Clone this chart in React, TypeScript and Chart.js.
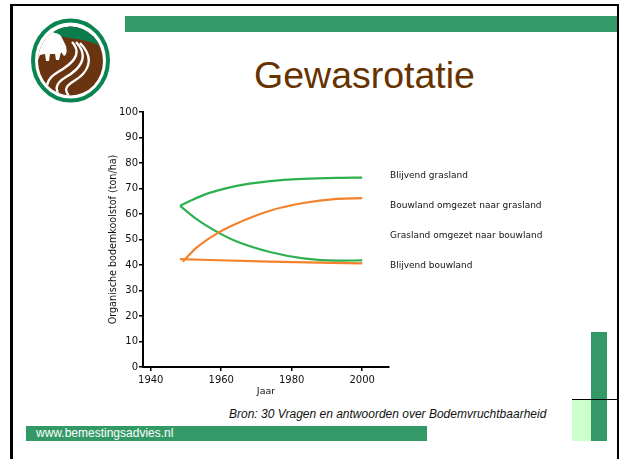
import React, { useEffect, useRef } from 'react';
import { Chart, registerables } from 'chart.js';

Chart.register(...registerables);

// ---- data ----
const seriesNames = [
  'Blijvend grasland',
  'Bouwland omgezet naar grasland',
  'Grasland omgezet naar bouwland',
  'Blijvend bouwland',
];

const blijvendGraslandYears = [1948.3, 1954.9, 1964.4, 1973.8, 1983.3, 1992.7, 2000];
const blijvendGraslandValues = [63.2, 67.4, 71.0, 72.9, 73.8, 74.2, 74.3];

const bouwNaarGrasYears = [1949.1, 1953, 1959.2, 1964.4, 1973.8, 1983.3, 1992.7, 2000];
const bouwNaarGrasValues = [41.3, 46.8, 52.7, 56.3, 61.3, 64.3, 65.9, 66.2];

const grasNaarBouwYears = [1948.3, 1953, 1959.2, 1964.4, 1973.8, 1983.3, 1992.7, 2000];
const grasNaarBouwValues = [63.2, 58.0, 52.7, 49.2, 45.1, 42.6, 41.7, 41.8];

const blijvendBouwlandYears = [1948.3, 1973.8, 2000];
const blijvendBouwlandValues = [42.3, 41.3, 40.6];

const xTicks = [1940, 1960, 1980, 2000];
const yTicks = [0, 10, 20, 30, 40, 50, 60, 70, 80, 90, 100];

const GREEN = '#2eb04f';
const ORANGE = '#f5822a';
const CHART_FONT = '"DejaVu Sans", Verdana, sans-serif';
const TEXT = '#111';

const toPoints = (xs: number[], ys: number[]) => xs.map((x, i) => ({ x, y: ys[i] }));

function SoilChart() {
  const ref = useRef<HTMLCanvasElement | null>(null);
  useEffect(() => {
    if (!ref.current) return;
    const lineDs = (label: string, xs: number[], ys: number[], color: string, order: number) => ({
      label,
      data: toPoints(xs, ys),
      borderColor: color,
      backgroundColor: color,
      borderWidth: 2.2,
      pointRadius: 0,
      fill: false,
      cubicInterpolationMode: 'monotone' as const,
      order,
    });
    const chart = new Chart(ref.current, {
      type: 'line',
      data: {
        datasets: [
          lineDs(seriesNames[0], blijvendGraslandYears, blijvendGraslandValues, GREEN, 1),
          lineDs(seriesNames[1], bouwNaarGrasYears, bouwNaarGrasValues, ORANGE, 0),
          lineDs(seriesNames[2], grasNaarBouwYears, grasNaarBouwValues, GREEN, 1),
          lineDs(seriesNames[3], blijvendBouwlandYears, blijvendBouwlandValues, ORANGE, 0),
        ],
      },
      options: {
        responsive: false,
        animation: false,
        layout: { padding: { top: 12, right: 6, bottom: 3, left: 0 } },
        plugins: { legend: { display: false }, tooltip: { enabled: false } },
        scales: {
          x: {
            type: 'linear',
            min: 1937.8,
            max: 2007.6,
            afterBuildTicks: (s: any) => {
              s.ticks = xTicks.map((v) => ({ value: v }));
            },
            afterFit: (s: any) => {
              s.height = 30;
            },
            grid: { drawOnChartArea: false, drawTicks: true, tickLength: 4, color: '#000', lineWidth: 1.5 },
            border: { color: '#000', width: 2 },
            ticks: {
              font: { family: CHART_FONT, size: 10 },
              color: TEXT,
              padding: 3,
              maxRotation: 0,
              autoSkip: false,
              callback: (v: any) => String(v),
            },
            title: {
              display: true,
              text: 'Jaar',
              font: { family: CHART_FONT, size: 9.5 },
              color: TEXT,
              padding: { top: 0, bottom: 0 },
            },
          },
          y: {
            type: 'linear',
            min: 0,
            max: 100,
            afterBuildTicks: (s: any) => {
              s.ticks = yTicks.map((v) => ({ value: v }));
            },
            afterFit: (s: any) => {
              s.width = 48;
            },
            grid: { drawOnChartArea: false, drawTicks: true, tickLength: 4, color: '#000', lineWidth: 1.5 },
            border: { color: '#000', width: 2 },
            ticks: {
              font: { family: CHART_FONT, size: 10 },
              color: TEXT,
              padding: 1,
              autoSkip: false,
            },
            title: {
              display: true,
              text: 'Organische bodemkoolstof (ton/ha)',
              font: { family: CHART_FONT, size: 9.6 },
              color: TEXT,
              padding: { top: 12.5, bottom: 0 },
            },
          },
        },
      },
    });
    return () => chart.destroy();
  }, []);
  return (
    <canvas
      ref={ref}
      width={300}
      height={300}
      style={{ position: 'absolute', left: 95, top: 100, width: 300, height: 300 }}
    />
  );
}

function Logo() {
  return (
    <svg
      width={140}
      height={120}
      viewBox="0 0 140 120"
      style={{ position: 'absolute', left: 0, top: 0 }}
    >
      <defs>
        <clipPath id="inner">
          <ellipse cx={70.5} cy={61} rx={32.5} ry={34.5} />
        </clipPath>
      </defs>
      <ellipse cx={70.5} cy={60.5} rx={37.5} ry={40} fill="#fff" stroke="#0a8552" strokeWidth={4} />
      <g clipPath="url(#inner)">
        <rect x={30} y={20} width={80} height={90} fill="#6b3411" />
        {/* sky */}
        <path d="M30 20 L60 20 L56 34 Q50 38 40 40 L30 42 Z" fill="#fff" />
        {/* green hill */}
        <path d="M52 20 L110 20 L110 52 Q94 40 70 38 Q60 37 54 33 Z" fill="#0a7d4c" />
        {/* cow */}
        <path
          d="M38 40 Q46 36 54 33 Q60 33 62 38 L66 46 Q68 54 64 56 L61 52 L59 60 L56 60 L55 54 L50 54 L49 61 L46 61 L45 54 L40 55 L38 60 L35 60 Z"
          fill="#fff"
        />
        {/* furrows */}
        <path d="M72 42 C84 55, 70 65, 58 72 S 44 88, 51 98" stroke="#fff" strokeWidth={2.4} fill="none" />
        <path d="M76 42 C91 58, 78 70, 66 77 S 55 90, 61 99" stroke="#fff" strokeWidth={2.4} fill="none" />
        <path d="M80 43 C97 60, 86 74, 74 81 S 66 92, 71 99" stroke="#fff" strokeWidth={2.4} fill="none" />
      </g>
    </svg>
  );
}

export default function App() {
  return (
    <div
      style={{
        position: 'absolute',
        left: 0,
        top: 0,
        width: 620,
        height: 459,
        overflow: 'hidden',
        background: '#fff',
      }}
    >
      {/* slide frame */}
      <div
        style={{
          position: 'absolute',
          left: 10,
          top: 4,
          width: 609,
          height: 470,
          boxSizing: 'border-box',
          borderLeft: '3px solid #000',
          borderTop: '2.5px solid #000',
          borderRight: '2px solid #000',
        }}
      />
      {/* top green bar */}
      <div style={{ position: 'absolute', left: 125, top: 16, width: 492, height: 16, background: '#339966' }} />
      <Logo />
      <div
        style={{
          position: 'absolute',
          left: 214.5,
          top: 57,
          width: 300,
          textAlign: 'center',
          fontFamily: '"Liberation Sans", Arial, sans-serif',
          fontSize: 37.5,
          lineHeight: '37px',
          color: '#663300',
          whiteSpace: 'nowrap',
        }}
      >
        Gewasrotatie
      </div>
      <SoilChart />
      {seriesNames.map((name, i) => (
        <div
          key={name}
          style={{
            position: 'absolute',
            left: 390,
            top: 170 + i * 30,
            fontFamily: CHART_FONT,
            fontSize: 9,
            lineHeight: '11px',
            color: TEXT,
            whiteSpace: 'nowrap',
          }}
        >
          {name}
        </div>
      ))}
      <div
        style={{
          position: 'absolute',
          left: 229,
          top: 407,
          fontFamily: '"Liberation Sans", Arial, sans-serif',
          fontStyle: 'italic',
          fontSize: 12,
          lineHeight: '14px',
          color: '#111',
          whiteSpace: 'nowrap',
        }}
      >
        Bron: 30 Vragen en antwoorden over Bodemvruchtbaarheid
      </div>
      {/* bottom bar */}
      <div style={{ position: 'absolute', left: 26, top: 426, width: 401, height: 15, background: '#339966' }} />
      <div
        style={{
          position: 'absolute',
          left: 36,
          top: 426,
          height: 15,
          fontFamily: '"Liberation Sans", Arial, sans-serif',
          fontSize: 12,
          lineHeight: '15px',
          color: '#fff',
          whiteSpace: 'nowrap',
        }}
      >
        www.bemestingsadvies.nl
      </div>
      {/* right decorations */}
      <div style={{ position: 'absolute', left: 572, top: 399, width: 19, height: 42, background: '#ccffcc' }} />
      <div style={{ position: 'absolute', left: 591, top: 332, width: 16, height: 109, background: '#339966' }} />
      <div style={{ position: 'absolute', left: 572, top: 398.5, width: 47, height: 1.5, background: '#000' }} />
    </div>
  );
}
